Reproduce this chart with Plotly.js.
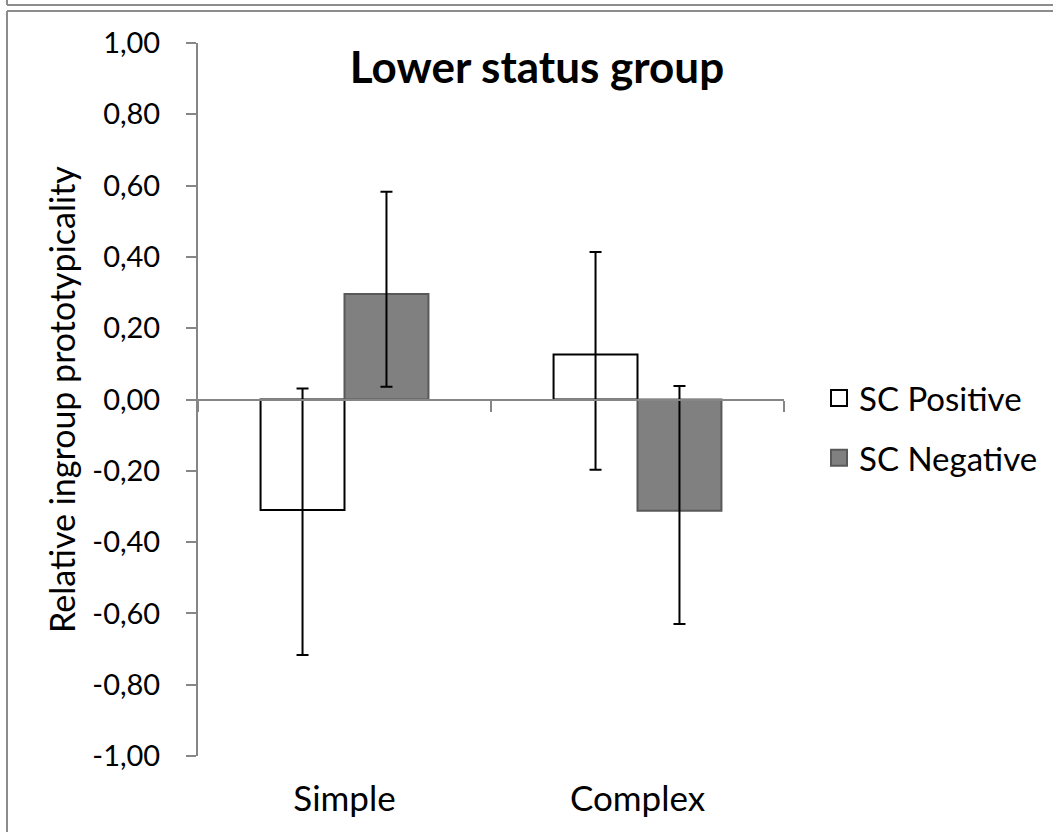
<!DOCTYPE html>
<html>
<head>
<meta charset="utf-8">
<script src="https://cdn.plot.ly/plotly-3.0.1.min.js"></script>
<style>html,body{margin:0;padding:0;background:#fff;}#chart{width:1053px;height:832px;}</style>
</head>
<body>
<div id="chart"></div>
<script>
const categories = ["Simple", "Complex"];
const seriesNames = ["SC Positive", "SC Negative"];
const positiveValues = [-0.31, 0.126];
const positiveErrPlus = [0.341, 0.288];
const positiveErrMinus = [0.407, 0.323];
const negativeValues = [0.296, -0.312];
const negativeErrPlus = [0.287, 0.35];
const negativeErrMinus = [0.26, 0.318];
const yTickVals = [-1, -0.8, -0.6, -0.4, -0.2, 0, 0.2, 0.4, 0.6, 0.8, 1];
const yTickText = ["-1,00", "-0,80", "-0,60", "-0,40", "-0,20", "0,00", "0,20", "0,40", "0,60", "0,80", "1,00"];
const chartTitle = "Lower status group";
const yTitle = "Relative ingroup prototypicality";

const W = 1053, H = 832;
const M = {l: 198, r: 269, t: 43, b: 76};
const pw = W - M.l - M.r, ph = H - M.t - M.b;
const px2x = p => (p - M.l) / pw;
const py2y = p => (H - M.b - p) / ph;

const FONT = "Lato, 'Open Sans', sans-serif";
const axisGrey = "#868686";

const traces = [
  {
    type: "bar", name: seriesNames[0], x: categories, y: positiveValues,
    marker: {color: "#ffffff", line: {color: "#000000", width: 2}},
    error_y: {type: "data", array: positiveErrPlus, arrayminus: positiveErrMinus, symmetric: false, color: "#000000", thickness: 2, width: 6},
    showlegend: false, legendgroup: "a", hoverinfo: "skip"
  },
  {
    type: "bar", name: seriesNames[1], x: categories, y: negativeValues,
    marker: {color: "#808080", line: {color: "#595959", width: 2}},
    error_y: {type: "data", array: negativeErrPlus, arrayminus: negativeErrMinus, symmetric: false, color: "#000000", thickness: 2, width: 6},
    showlegend: false, legendgroup: "b", hoverinfo: "skip"
  },
  {
    type: "scatter", mode: "markers", name: seriesNames[0], x: [null], y: [null],
    marker: {symbol: "square", size: 20, color: "#ffffff", line: {color: "#000000", width: 2}},
    legendgroup: "a", hoverinfo: "skip"
  },
  {
    type: "scatter", mode: "markers", name: seriesNames[1], x: [null], y: [null],
    marker: {symbol: "square", size: 20, color: "#808080", line: {color: "#595959", width: 2}},
    legendgroup: "b", hoverinfo: "skip"
  }
];

const layout = {
  width: W, height: H,
  margin: M,
  paper_bgcolor: "#ffffff", plot_bgcolor: "#ffffff",
  font: {family: FONT, color: "#000000", size: 29},
  title: {text: "<b>" + chartTitle + "</b>", font: {family: FONT, size: 44, color: "#000"},
          xref: "container", yref: "container", x: 537 / W, y: 1 - 68 / H, xanchor: "center", yanchor: "middle"},
  barmode: "group", bargap: 0.427, bargroupgap: 0,
  showlegend: true,
  legend: {xref: "container", yref: "container", x: 819 / W, y: 1 - 428 / H, xanchor: "left", yanchor: "middle",
           font: {family: FONT, size: 33, color: "#000"}, traceorder: "grouped", tracegroupgap: 14,
           bgcolor: "rgba(0,0,0,0)", borderwidth: 0, itemsizing: "trace"},
  xaxis: {
    type: "category", categoryarray: categories, categoryorder: "array",
    anchor: "free", position: 0.5,
    showline: true, linecolor: axisGrey, linewidth: 2,
    ticks: "outside", tickson: "boundaries", ticklen: 11, tickwidth: 2, tickcolor: axisGrey,
    ticklabelstandoff: 368,
    tickfont: {family: FONT, size: 35, color: "#000"},
    showgrid: false, zeroline: false, fixedrange: true
  },
  yaxis: {
    range: [-1, 1], tickvals: yTickVals, ticktext: yTickText,
    showline: true, linecolor: axisGrey, linewidth: 2,
    ticks: "outside", ticklen: 10, tickwidth: 2, tickcolor: axisGrey,
    ticklabelstandoff: 20,
    tickfont: {family: FONT, size: 29, color: "#000"},
    showgrid: false, zeroline: false, fixedrange: true,
    title: {text: yTitle, font: {family: FONT, size: 34, color: "#000"}, standoff: 6}
  },
  shapes: [
    {type: "line", xref: "paper", yref: "paper", x0: px2x(7), x1: px2x(7), y0: py2y(11), y1: py2y(900), line: {color: "#8c8c8c", width: 2}},
    {type: "line", xref: "paper", yref: "paper", x0: px2x(7), x1: px2x(1100), y0: py2y(11), y1: py2y(11), line: {color: "#8c8c8c", width: 2}},
    {type: "line", xref: "paper", yref: "paper", x0: px2x(7), x1: px2x(1100), y0: py2y(5), y1: py2y(5), line: {color: "#8c8c8c", width: 2}},
    {type: "line", xref: "paper", yref: "paper", x0: px2x(7), x1: px2x(7), y0: py2y(5), y1: py2y(-20), line: {color: "#8c8c8c", width: 2}}
  ]
};

Plotly.newPlot("chart", traces, layout, {displayModeBar: false, staticPlot: true});
</script>
</body>
</html>
